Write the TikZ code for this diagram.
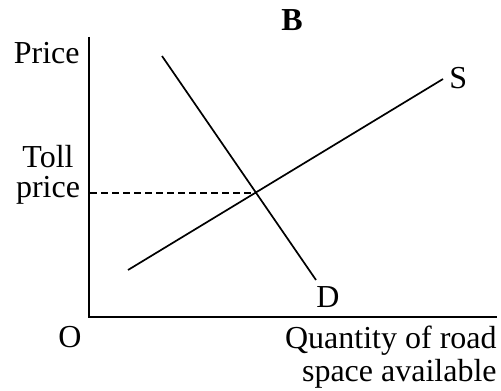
\documentclass[tikz,border=0pt]{standalone}
\usepackage{fontspec}
\setmainfont{Liberation Serif}
\usepackage{tikz}
\usetikzlibrary{positioning}
\tikzset{
  tollpicture/.style={x=0.5pt, y=-0.5pt},
  tolltext/.style={font=\fontsize{16}{15}\selectfont, inner sep=0pt},
  tollaxis/.style={line width=1.3pt},
  tollcurve/.style={line width=0.85pt},
  tollguide/.style={line width=0.6pt, dash pattern=on 3.5pt off 2pt}
}

\begin{document}
\begin{tikzpicture}[tollpicture]
\useasboundingbox (0,0) rectangle (501,390);
\coordinate (ytop) at (89,37);
\coordinate (origin) at (89,317);
\coordinate (xend) at (497,317);
\coordinate (dtop) at (162,56);
\coordinate (dbot) at (316,280);
\coordinate (slow) at (128,270);
\coordinate (shigh) at (443,79);
\coordinate (eq) at (256.5,193);
\coordinate (tollmark) at (90,193);
\node[tolltext, font=\fontsize{16}{15}\selectfont\bfseries, anchor=base] (title) at (292,31) {B};
\node[tolltext, anchor=base east] (price) at (80,63) {Price};
\node[tolltext, anchor=base, align=center] (toll) at (48,197) {Toll\\price};
\node[tolltext, anchor=base] (olabel) at (70,347) {O};
\node[tolltext, anchor=base west] (slabel) at (449,88) {S};
\node[tolltext, anchor=base] (dlabel) at (328,307) {D};
\node[tolltext, font=\fontsize{16}{16.5}\selectfont, anchor=base east, align=right] (qlabel) at (497,381) {Quantity of road\\space available};
\draw[tollaxis] (ytop) -- (origin) -- (xend);
\draw[tollcurve] (dtop) -- (dbot);
\draw[tollcurve] (slow) -- (shigh);
\draw[tollguide] (tollmark) -- (eq);
\end{tikzpicture}
\end{document}
